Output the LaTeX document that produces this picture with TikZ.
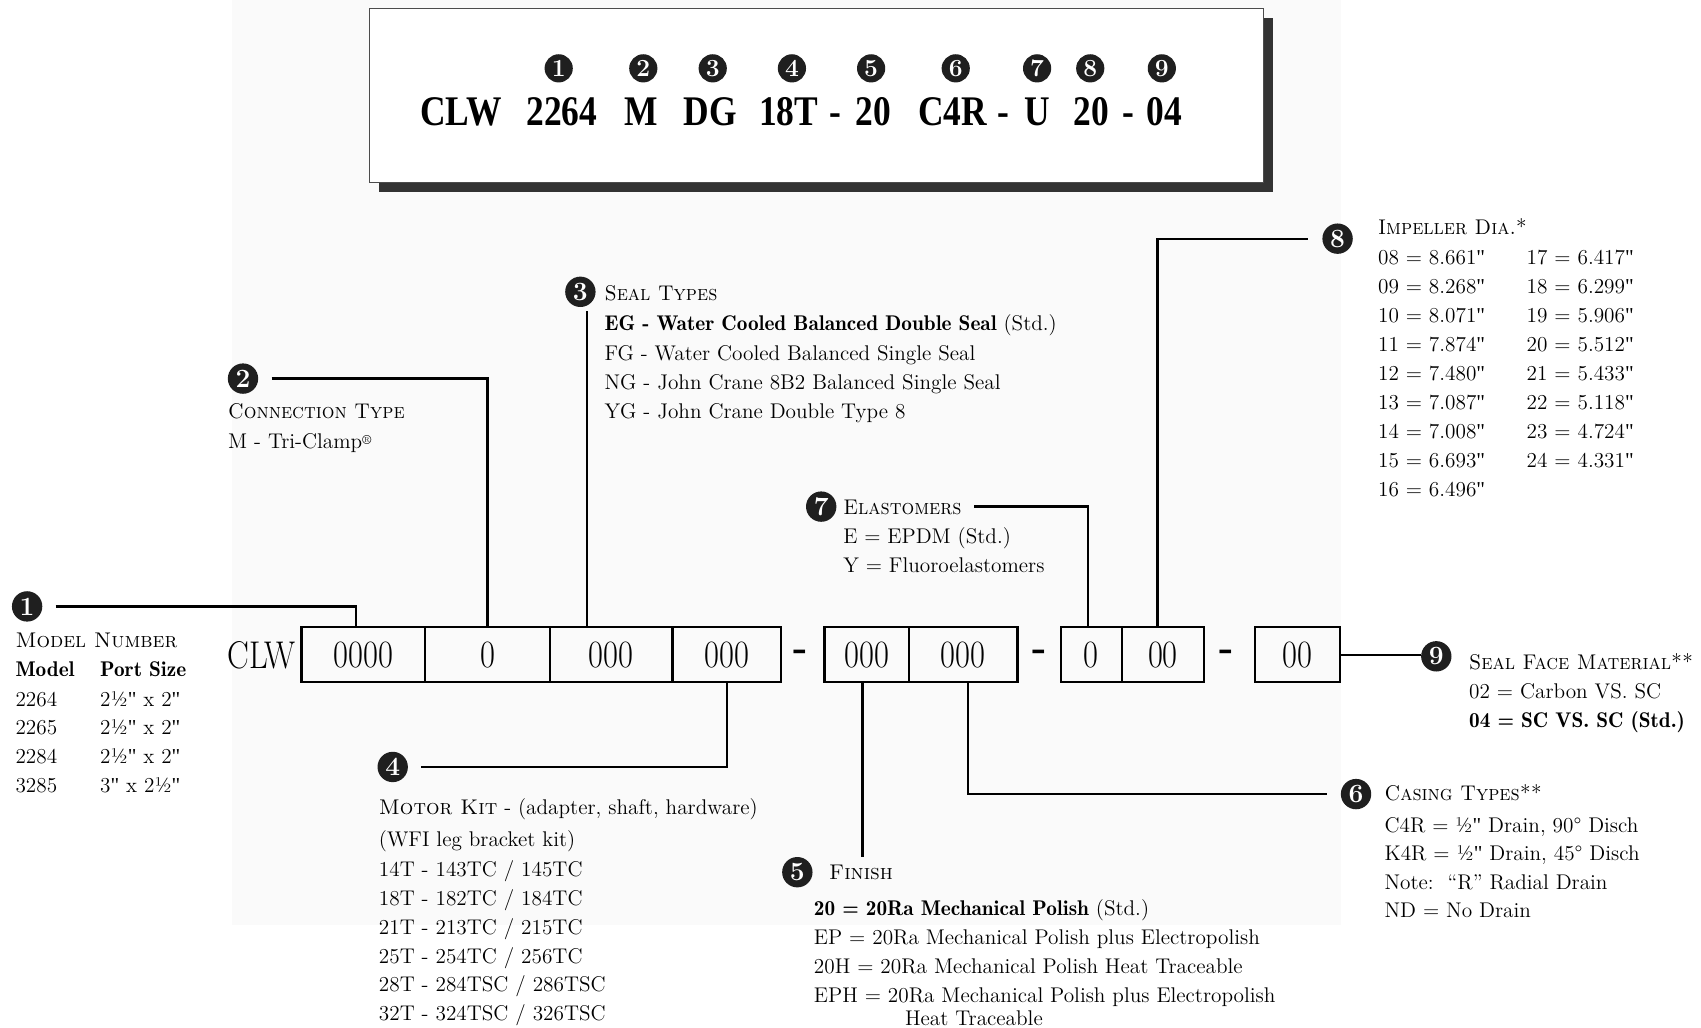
\documentclass[tikz,border=0pt]{standalone}
\usepackage{fontspec}
\newfontfamily\timesf{Liberation Serif}
\newfontfamily\qfont{Liberation Serif}[Ligatures=TeXOff]
\newfontfamily\demi{lmromandemi10-regular}[Extension=.otf]
\newcommand{\inq}{{\qfont"}}
\newcommand{\mycond}[1]{\scalebox{0.84}[1]{#1}}
\newcommand{\myhd}[1]{\scalebox{0.94}[1]{\textsc{#1}}}
\newcommand{\myreg}{{\fontsize{7.5}{7.5}\selectfont\raisebox{0.7ex}{®}}}
\def\u{0.021696cm}
\tikzset{
  conn/.style={line width=1.3pt, black},
  badge/.style={circle, fill=black!88, text=white, inner sep=0pt, minimum size={28*\u}, font=\fontsize{15}{15}\selectfont\bfseries},
  tbadge/.style={badge, minimum size={26*\u}, font=\fontsize{14}{14}\selectfont\bfseries},
  txt/.style={anchor=base west, inner sep=0pt, font=\fontsize{12.1}{16.6}\selectfont},
  btxt/.style={anchor=base west, inner sep=0pt, font=\fontsize{12.1}{16.6}\demi},
  hd/.style={anchor=base west, inner sep=0pt, font=\fontsize{12.1}{16.6}\selectfont},
  cell/.style={draw, line width=1.3pt, minimum height={51*\u}, inner sep=0pt, font=\fontsize{22}{22}\selectfont},
  dsh/.style={inner sep=0pt, font=\fontsize{22}{22}\selectfont\bfseries},
  topt/.style={anchor=base, inner sep=0pt, font=\fontsize{24}{24}\timesf\bfseries},
}
\begin{document}
\begin{tikzpicture}[x=0.021696cm, y=-0.021696cm]
\useasboundingbox (0,0) rectangle (1568,947);
% faint background
\fill[black!2] (214,0) rectangle (1236,853);

% ---- top code box ----
\fill[black!80] (349,17) rectangle (1173,177);
\draw[draw=black!70, fill=white, line width=0.6pt] (341,8) rectangle (1165,168);
\foreach \n/\x in {1/515,2/593,3/657,4/730,5/803,6/881,7/956,8/1005,9/1071}
  \node[tbadge] (tb\n) at (\x,63) {\n};
\foreach \t/\x [count=\k] in {CLW/425,2264/518,M/591,DG/655,18T/727,-/770,20/805,C4R/878,-/925,U/956,20/1006,-/1040,04/1073}
  \node[topt] (tt\k) at (\x,116) {\mycond{\t}};

% ---- code boxes row ----
\node[inner sep=0pt, font=\fontsize{22}{22}\selectfont] (clw) at (241,604) {\mycond{CLW}};
\node[cell, minimum width={114*\u}] (b1) at (335,603.5) {\mycond{0000}};
\node[cell, minimum width={115*\u}] (b2) at (449.5,603.5) {\mycond{0}};
\node[cell, minimum width={113*\u}] (b3) at (563.5,603.5) {\mycond{000}};
\node[cell, minimum width={100*\u}] (b4) at (670,603.5) {\mycond{000}};
\node[dsh] (d1) at (738,604) {-};
\node[cell, minimum width={78*\u}] (b5) at (799,603.5) {\mycond{000}};
\node[cell, minimum width={100*\u}] (b6) at (888,603.5) {\mycond{000}};
\node[dsh] (d2) at (958,604) {-};
\node[cell, minimum width={56*\u}] (b7) at (1006,603.5) {\mycond{0}};
\node[cell, minimum width={76*\u}] (b8) at (1072,603.5) {\mycond{00}};
\node[dsh] (d3) at (1131,604) {-};
\node[cell, minimum width={78*\u}] (b9) at (1196,603.5) {\mycond{00}};

% ---- badges ----
\node[badge] (c1) at (25,559) {1};
\node[badge] (c2) at (224,349) {2};
\node[badge] (c3) at (535,269) {3};
\node[badge] (c4) at (362,707) {4};
\node[badge] (c5) at (735,804) {5};
\node[badge] (c6) at (1250,732) {6};
\node[badge] (c7) at (757,467) {7};
\node[badge] (c8) at (1233,220) {8};
\node[badge] (c9) at (1324,605) {9};

% ---- connectors ----
\coordinate (t3) at (541,287);
\coordinate (e5) at (795,790);
\coordinate (e7) at (898,467);
\draw[conn] ([xshift=12*\u]c1.east) -| ([xshift=-7*\u]b1.north);
\draw[conn] ([xshift=12*\u]c2.east) -| (b2.north);
\draw[conn] (t3) -- (t3 |- b3.north);
\draw[conn] ([xshift=12*\u]c4.east) -| (b4.south);
\draw[conn] (e5 |- b5.south) -- (e5);
\draw[conn] ([xshift=4*\u]b6.south) |- ([xshift=-12*\u]c6.west);
\draw[conn] (e7) -| ([xshift=-3*\u]b7.north);
\draw[conn] ([xshift=-5*\u]b8.north) |- ([xshift=-13*\u]c8.west);
\draw[conn] (b9.east) -- (b9.east -| c9.west);

% ---- 1 model number ----
\node[hd] (h1) at (14,597) {\textsc{Model Number}};
\node[btxt] (m0a) at (14,624) {Model};
\node[btxt] (m0b) at (92,624) {Port Size};
\foreach \a/\b [count=\k from 0] in {2264/2½\inq{} x 2\inq,2265/2½\inq{} x 2\inq,2284/2½\inq{} x 2\inq,3285/3\inq{} x 2½\inq} {
  \node[txt] (m\k a) at (14,{651+26.5*\k}) {\a};
  \node[txt] (m\k b) at (92,{651+26.5*\k}) {\b};
}

% ---- 2 connection type ----
\node[hd] (h2) at (210,386) {\myhd{Connection Type}};
\node[txt] (l2) at (210,413) {M - Tri-Clamp\myreg};

% ---- 3 seal types ----
\node[hd] (h3) at (557,277) {\myhd{Seal Types}};
\node[txt] (l3a) at (557,305) {{\demi EG - Water Cooled Balanced Double Seal} (Std.)};
\node[txt] (l3b) at (557,332) {FG - Water Cooled Balanced Single Seal};
\node[txt] (l3c) at (557,359) {NG - John Crane 8B2 Balanced Single Seal};
\node[txt] (l3d) at (557,386) {YG - John Crane Double Type 8};

% ---- 7 elastomers ----
\node[hd] (h7) at (777,474) {\myhd{Elastomers}};
\node[txt] (l7a) at (777,501) {E = EPDM (Std.)};
\node[txt] (l7b) at (777,528) {Y = Fluoroelastomers};

% ---- 8 impeller ----
\node[hd] (h8) at (1270,216) {\myhd{Impeller Dia.*}};
\foreach \a/\b [count=\k from 0] in {08/8.661,09/8.268,10/8.071,11/7.874,12/7.480,13/7.087,14/7.008,15/6.693,16/6.496}
  \node[txt] (i\k a) at (1270,{244+26.7*\k}) {\a{} = \b\inq};
\foreach \a/\b [count=\k from 0] in {17/6.417,18/6.299,19/5.906,20/5.512,21/5.433,22/5.118,23/4.724,24/4.331}
  \node[txt] (i\k b) at (1407,{244+26.7*\k}) {\a{} = \b\inq};

% ---- 4 motor kit ----
\node[txt] (h4) at (349,751) {\textsc{Motor Kit} - (adapter, shaft, hardware)};
\node[txt] (l4a) at (349,780) {(WFI leg bracket kit)};
\foreach \t [count=\k from 0] in {14T - 143TC / 145TC,18T - 182TC / 184TC,21T - 213TC / 215TC,25T - 254TC / 256TC,28T - 284TSC / 286TSC,32T - 324TSC / 326TSC}
  \node[txt] (l4\k) at (349,{808+26.6*\k}) {\t};

% ---- 5 finish ----
\node[hd] (h5) at (764,811) {\textsc{Finish}};
\node[txt] (l5a) at (750,844) {{\demi 20 = 20Ra Mechanical Polish} (Std.)};
\node[txt] (l5b) at (750,871) {EP = 20Ra Mechanical Polish plus Electropolish};
\node[txt] (l5c) at (750,897) {20H = 20Ra Mechanical Polish Heat Traceable};
\node[txt] (l5d) at (750,924) {EPH = 20Ra Mechanical Polish plus Electropolish};
\node[txt] (l5e) at (834,945) {Heat Traceable};

% ---- 9 seal face ----
\node[hd] (h9) at (1354,617) {\myhd{Seal Face Material**}};
\node[txt] (l9a) at (1354,644) {02 = Carbon VS. SC};
\node[btxt] (l9b) at (1354,671) {04 = SC VS. SC (Std.)};

% ---- 6 casing ----
\node[hd] (h6) at (1276,738) {\myhd{Casing Types**}};
\node[txt] (l6a) at (1276,767) {C4R = ½\inq{} Drain, 90° Disch};
\node[txt] (l6b) at (1276,793) {K4R = ½\inq{} Drain, 45° Disch};
\node[txt] (l6c) at (1276,820) {Note:\ \ “R” Radial Drain};
\node[txt] (l6d) at (1276,846) {ND = No Drain};
\end{tikzpicture}
\end{document}
